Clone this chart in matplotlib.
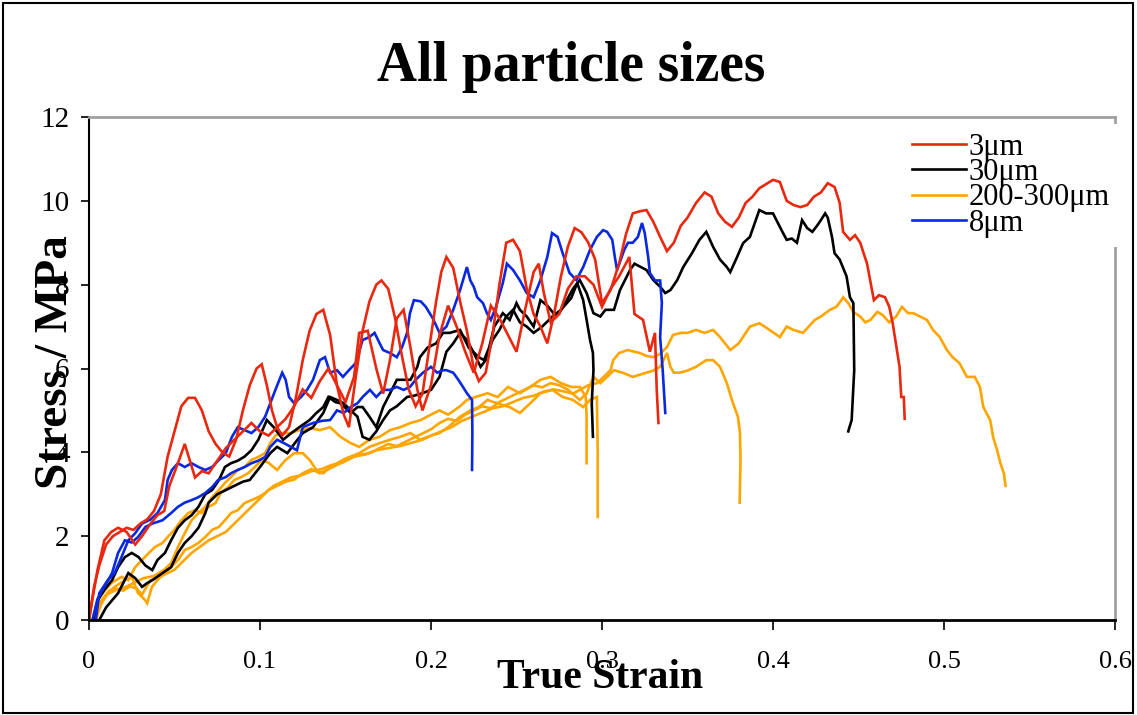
import matplotlib
matplotlib.use("Agg")
import matplotlib.pyplot as plt
from matplotlib.patches import Rectangle

plt.rcParams['font.family'] = ['Liberation Serif', 'DejaVu Serif']

# Datos: (deformación verdadera, tensión MPa)
s3um_long = [(0, 0), (0.003, 0.8), (0.006, 1.3), (0.01, 1.8), (0.014, 2.0), (0.018, 2.1), (0.022, 2.2),
             (0.026, 2.15), (0.03, 2.3), (0.034, 2.4), (0.038, 2.6), (0.042, 3.0), (0.046, 3.9), (0.05, 4.5),
             (0.054, 5.1), (0.058, 5.3), (0.062, 5.3), (0.066, 5.0), (0.07, 4.5), (0.074, 4.2), (0.078, 4.0),
             (0.082, 3.9), (0.086, 4.3), (0.09, 5.0), (0.094, 5.6), (0.098, 6.0), (0.101, 6.1), (0.104, 5.6),
             (0.107, 5.0), (0.11, 4.6), (0.113, 4.4), (0.117, 4.6), (0.121, 5.3), (0.125, 6.2), (0.129, 6.9),
             (0.133, 7.3), (0.137, 7.4), (0.141, 6.8), (0.145, 5.6), (0.149, 4.9), (0.152, 4.6), (0.156, 5.8),
             (0.16, 6.9), (0.164, 7.6), (0.168, 8.0), (0.171, 8.1), (0.175, 7.9), (0.179, 7.2), (0.183, 6.3),
             (0.187, 5.5), (0.191, 5.1), (0.195, 5.4), (0.199, 6.5), (0.203, 7.6), (0.206, 8.3), (0.209, 8.66),
             (0.213, 8.4), (0.217, 7.6), (0.221, 6.9), (0.225, 6.0), (0.228, 5.7), (0.232, 5.9), (0.236, 6.8),
             (0.24, 8.0), (0.244, 9.0), (0.248, 9.07), (0.252, 8.8), (0.256, 7.9), (0.26, 7.3), (0.264, 7.0),
             (0.268, 6.6), (0.272, 7.3), (0.276, 8.2), (0.28, 8.9), (0.284, 9.35), (0.288, 9.25), (0.292, 9.0),
             (0.296, 8.6), (0.3, 7.56), (0.305, 7.87), (0.31, 8.5), (0.314, 9.2), (0.318, 9.7), (0.322, 9.75),
             (0.326, 9.78), (0.33, 9.5), (0.334, 9.14), (0.338, 8.8), (0.342, 9.0), (0.346, 9.4), (0.35, 9.6),
             (0.355, 9.95), (0.36, 10.2), (0.364, 10.1), (0.368, 9.7), (0.372, 9.5), (0.376, 9.38), (0.38, 9.6),
             (0.384, 9.95), (0.388, 10.1), (0.392, 10.3), (0.396, 10.4), (0.4, 10.5), (0.404, 10.45),
             (0.408, 10.0), (0.412, 9.9), (0.416, 9.85), (0.42, 9.9), (0.424, 10.1), (0.428, 10.2),
             (0.432, 10.42), (0.436, 10.33), (0.439, 9.95), (0.441, 9.26), (0.445, 9.07), (0.448, 9.18),
             (0.451, 9.0), (0.455, 8.5), (0.459, 7.63), (0.462, 7.75), (0.4655, 7.7), (0.468, 7.47),
             (0.47, 7.08), (0.4725, 6.44), (0.474, 6.04), (0.475, 5.32), (0.4765, 5.32), (0.477, 4.8)]

s3um_short = [(0, 0), (0.002, 0.5), (0.005, 1.2), (0.009, 1.9), (0.013, 2.1), (0.017, 2.2), (0.022, 2.1),
              (0.027, 1.8), (0.031, 2.0), (0.036, 2.3), (0.04, 2.5), (0.044, 2.6), (0.047, 3.2), (0.052, 3.74),
              (0.056, 4.2), (0.059, 3.8), (0.062, 3.4), (0.066, 3.55), (0.07, 3.5), (0.075, 3.8), (0.08, 4.1),
              (0.085, 4.3), (0.09, 4.5), (0.095, 4.7), (0.1, 4.5), (0.105, 4.4), (0.11, 4.6), (0.115, 4.8),
              (0.12, 5.1), (0.125, 5.5), (0.13, 5.3), (0.135, 5.7), (0.14, 6.0), (0.145, 5.6), (0.15, 5.2),
              (0.155, 5.8), (0.158, 6.85), (0.163, 6.9), (0.168, 6.0), (0.172, 5.4), (0.176, 6.2), (0.18, 7.2),
              (0.184, 7.4), (0.188, 6.5), (0.192, 5.5), (0.195, 5.0), (0.2, 5.6), (0.205, 6.8), (0.21, 7.5),
              (0.215, 7.0), (0.22, 6.4), (0.225, 5.9), (0.23, 6.6), (0.235, 7.5), (0.24, 7.2), (0.245, 6.8),
              (0.25, 6.4), (0.255, 7.4), (0.26, 8.3), (0.263, 8.5), (0.266, 7.8), (0.27, 7.1), (0.275, 7.3),
              (0.28, 7.9), (0.285, 8.2), (0.29, 8.2), (0.295, 8.0), (0.3, 7.47), (0.305, 7.9), (0.31, 8.2),
              (0.316, 8.66), (0.319, 7.3), (0.324, 7.16), (0.328, 6.4), (0.331, 6.85), (0.332, 5.5),
              (0.333, 4.7)]

s30um_long = [(0.003, 0), (0.0053, 0.48), (0.009, 0.72), (0.0135, 0.95), (0.017, 1.26), (0.021, 1.5),
              (0.025, 1.6), (0.029, 1.5), (0.033, 1.3), (0.037, 1.19), (0.04, 1.43), (0.0444, 1.6),
              (0.048, 1.9), (0.052, 2.2), (0.056, 2.38), (0.06, 2.5), (0.064, 2.7), (0.068, 3.0), (0.072, 3.1),
              (0.076, 3.34), (0.0795, 3.65), (0.083, 3.74), (0.087, 3.8), (0.091, 3.9), (0.095, 4.05),
              (0.099, 4.3), (0.104, 4.77), (0.108, 4.6), (0.1135, 4.3), (0.118, 4.45), (0.123, 4.6),
              (0.129, 4.77), (0.133, 4.94), (0.137, 5.08), (0.14, 5.32), (0.144, 5.2), (0.147, 5.17),
              (0.153, 4.94), (0.157, 5.08), (0.16, 5.08), (0.164, 4.85), (0.168, 4.6), (0.172, 5.08),
              (0.176, 5.4), (0.18, 5.73), (0.184, 5.73), (0.188, 5.73), (0.192, 6.04), (0.1935, 6.27),
              (0.198, 6.5), (0.203, 6.6), (0.207, 6.85), (0.211, 6.85), (0.217, 6.92), (0.222, 6.5),
              (0.228, 6.27), (0.231, 6.2), (0.234, 6.5), (0.237, 7.0), (0.242, 7.32), (0.246, 7.16),
              (0.25, 7.56), (0.252, 7.4), (0.256, 7.24), (0.26, 7.0), (0.264, 7.63), (0.268, 7.5),
              (0.272, 7.3), (0.275, 7.32), (0.279, 7.6), (0.283, 7.9), (0.287, 8.11), (0.291, 7.8),
              (0.295, 7.32), (0.299, 7.24), (0.302, 7.4), (0.307, 7.4), (0.3105, 7.87), (0.3164, 8.35),
              (0.319, 8.5), (0.326, 8.35), (0.33, 8.11), (0.334, 7.95), (0.337, 7.8), (0.34, 7.87),
              (0.344, 8.11), (0.3475, 8.42), (0.3526, 8.75), (0.357, 9.07), (0.361, 9.26), (0.365, 8.9),
              (0.369, 8.6), (0.373, 8.42), (0.375, 8.3), (0.379, 8.66), (0.3825, 8.99), (0.3865, 9.14),
              (0.392, 9.78), (0.396, 9.7), (0.4, 9.7), (0.405, 9.3), (0.408, 9.07), (0.411, 9.1), (0.414, 9.0),
              (0.417, 9.54), (0.42, 9.35), (0.423, 9.26), (0.426, 9.42), (0.428, 9.54), (0.4305, 9.7),
              (0.432, 9.6), (0.4345, 9.14), (0.436, 8.75), (0.439, 8.6), (0.441, 8.4), (0.443, 8.2),
              (0.445, 7.7), (0.447, 7.56), (0.4475, 5.96), (0.446, 4.77), (0.444, 4.5)]

s30um_short = [(0.006, 0), (0.01, 0.3), (0.017, 0.64), (0.023, 1.12), (0.027, 1.0), (0.031, 0.79),
               (0.034, 0.88), (0.037, 0.95), (0.043, 1.12), (0.048, 1.26), (0.052, 1.6), (0.056, 1.84),
               (0.06, 2.0), (0.064, 2.2), (0.068, 2.55), (0.07, 2.8), (0.075, 3.0), (0.08, 3.1), (0.085, 3.2),
               (0.09, 3.3), (0.094, 3.34), (0.1, 3.65), (0.106, 3.98), (0.11, 4.13), (0.116, 3.98), (0.12, 4.2),
               (0.125, 4.46), (0.131, 4.6), (0.137, 4.94), (0.141, 5.32), (0.145, 5.25), (0.149, 5.17),
               (0.153, 5.0), (0.157, 4.85), (0.16, 4.37), (0.164, 4.3), (0.168, 4.5), (0.172, 4.77),
               (0.176, 5.0), (0.18, 5.1), (0.186, 5.32), (0.19, 5.35), (0.195, 5.41), (0.2, 5.49), (0.205, 5.8),
               (0.209, 6.4), (0.213, 6.6), (0.217, 6.85), (0.221, 6.68), (0.225, 6.37), (0.229, 6.04),
               (0.232, 6.2), (0.236, 6.68), (0.24, 6.92), (0.244, 7.24), (0.248, 7.4), (0.252, 7.1),
               (0.256, 7.0), (0.26, 6.85), (0.265, 7.0), (0.271, 7.24), (0.276, 7.4), (0.282, 7.68),
               (0.2855, 8.04), (0.289, 7.63), (0.291, 7.16), (0.293, 6.68), (0.2947, 6.37), (0.295, 5.96),
               (0.294, 5.17), (0.2947, 4.37)]

s200_top = [(0.003, 0), (0.006, 0.4), (0.01, 0.6), (0.016, 0.72), (0.022, 0.8), (0.027, 0.9), (0.032, 1.0),
            (0.038, 1.05), (0.044, 1.2), (0.048, 1.36), (0.052, 1.74), (0.056, 2.07), (0.06, 2.38),
            (0.064, 2.55), (0.068, 2.7), (0.072, 2.93), (0.076, 3.1), (0.0795, 3.27), (0.083, 3.41),
            (0.087, 3.58), (0.091, 3.65), (0.095, 3.82), (0.099, 3.89), (0.103, 3.98), (0.106, 4.22),
            (0.109, 4.4), (0.112, 4.46), (0.118, 4.46), (0.123, 4.53), (0.129, 4.58), (0.135, 4.53),
            (0.141, 4.6), (0.147, 4.37), (0.153, 4.22), (0.158, 4.13), (0.164, 4.3), (0.17, 4.37),
            (0.176, 4.53), (0.182, 4.6), (0.188, 4.7), (0.194, 4.77), (0.2, 4.9), (0.205, 5.0), (0.21, 4.9),
            (0.217, 5.1), (0.221, 5.25), (0.226, 5.32), (0.233, 5.41), (0.239, 5.32), (0.245, 5.56),
            (0.252, 5.41), (0.258, 5.56), (0.264, 5.73), (0.27, 5.8), (0.276, 5.65), (0.282, 5.56),
            (0.287, 5.56), (0.2905, 5.32), (0.291, 4.85), (0.291, 3.74)]

s200_mid = [(0.002, 0), (0.005, 0.5), (0.008, 0.64), (0.013, 0.88), (0.019, 1.03), (0.023, 0.95),
            (0.027, 1.26), (0.031, 1.43), (0.035, 1.6), (0.0386, 1.74), (0.043, 1.84), (0.046, 1.98),
            (0.05, 2.15), (0.054, 2.38), (0.058, 2.55), (0.062, 2.62), (0.066, 2.55), (0.07, 2.7),
            (0.074, 2.79), (0.077, 3.03), (0.0813, 3.17), (0.085, 3.34), (0.089, 3.41), (0.093, 3.5),
            (0.097, 3.65), (0.101, 3.82), (0.105, 3.75), (0.11, 3.58), (0.115, 3.82), (0.12, 3.98),
            (0.125, 3.98), (0.129, 3.82), (0.133, 3.58), (0.137, 3.5), (0.141, 3.65), (0.145, 3.74),
            (0.15, 3.85), (0.158, 3.98), (0.164, 4.13), (0.17, 4.22), (0.176, 4.3), (0.182, 4.37),
            (0.188, 4.46), (0.1936, 4.3), (0.2, 4.4), (0.205, 4.46), (0.21, 4.6), (0.217, 4.85), (0.223, 5.0),
            (0.228, 5.08), (0.233, 5.25), (0.24, 5.15), (0.246, 5.08), (0.252, 4.94), (0.258, 5.17),
            (0.264, 5.41), (0.271, 5.49), (0.277, 5.32), (0.283, 5.25), (0.289, 5.08), (0.293, 5.25),
            (0.297, 5.32), (0.2975, 4.0), (0.2975, 2.46)]

s200_long = [(0.003, 0), (0.006, 0.3), (0.011, 0.64), (0.015, 0.79), (0.021, 0.95), (0.025, 1.03),
             (0.0287, 0.64), (0.0327, 0.48), (0.034, 0.4), (0.0368, 0.79), (0.04, 0.95), (0.044, 1.12),
             (0.048, 1.26), (0.052, 1.43), (0.056, 1.67), (0.06, 1.74), (0.064, 1.84), (0.068, 1.98),
             (0.072, 2.15), (0.076, 2.22), (0.0795, 2.38), (0.083, 2.55), (0.087, 2.62), (0.091, 2.79),
             (0.095, 2.86), (0.099, 2.93), (0.103, 3.03), (0.108, 3.2), (0.113, 3.3), (0.118, 3.4),
             (0.124, 3.45), (0.13, 3.55), (0.136, 3.6), (0.142, 3.7), (0.148, 3.75), (0.155, 3.9),
             (0.162, 3.95), (0.168, 4.05), (0.175, 4.1), (0.182, 4.15), (0.188, 4.22), (0.195, 4.3),
             (0.2, 4.4), (0.206, 4.5), (0.212, 4.6), (0.218, 4.75), (0.224, 4.85), (0.23, 4.95), (0.236, 5.05),
             (0.242, 5.1), (0.248, 5.2), (0.254, 5.3), (0.26, 5.35), (0.266, 5.45), (0.272, 5.5),
             (0.278, 5.45), (0.283, 5.4), (0.287, 5.49), (0.292, 5.6), (0.297, 5.65), (0.301, 5.8),
             (0.305, 5.96), (0.3066, 6.2), (0.31, 6.37), (0.315, 6.44), (0.319, 6.4), (0.322, 6.37),
             (0.326, 6.3), (0.33, 6.27), (0.334, 6.35), (0.338, 6.51), (0.3415, 6.8), (0.346, 6.85),
             (0.35, 6.85), (0.355, 6.92), (0.36, 6.85), (0.365, 6.92), (0.369, 6.75), (0.375, 6.44),
             (0.38, 6.6), (0.3865, 7.0), (0.392, 7.08), (0.398, 6.92), (0.404, 6.75), (0.408, 7.0),
             (0.412, 6.92), (0.4175, 6.85), (0.4245, 7.16), (0.428, 7.24), (0.4333, 7.4), (0.437, 7.47),
             (0.44, 7.63), (0.441, 7.7), (0.444, 7.56), (0.447, 7.35), (0.451, 7.24), (0.454, 7.1),
             (0.457, 7.16), (0.461, 7.35), (0.464, 7.28), (0.468, 7.1), (0.472, 7.24), (0.4754, 7.47),
             (0.479, 7.32), (0.482, 7.32), (0.486, 7.24), (0.49, 7.16), (0.4936, 6.92), (0.4975, 6.75),
             (0.5017, 6.44), (0.505, 6.27), (0.509, 6.13), (0.5134, 5.8), (0.518, 5.8), (0.521, 5.56),
             (0.523, 5.08), (0.527, 4.77), (0.5287, 4.37), (0.531, 4.06), (0.533, 3.74), (0.535, 3.5),
             (0.536, 3.2)]

s200_381 = [(0.004, 0), (0.008, 0.5), (0.012, 0.7), (0.016, 0.75), (0.02, 0.7), (0.024, 0.8), (0.028, 0.75),
            (0.031, 0.6), (0.033, 0.75), (0.036, 0.95), (0.04, 1.0), (0.045, 1.1), (0.05, 1.2), (0.055, 1.4),
            (0.06, 1.6), (0.065, 1.75), (0.07, 1.9), (0.075, 2.0), (0.08, 2.1), (0.085, 2.3), (0.09, 2.5),
            (0.095, 2.7), (0.1, 2.9), (0.105, 3.1), (0.11, 3.2), (0.115, 3.3), (0.12, 3.35), (0.125, 3.5),
            (0.13, 3.6), (0.135, 3.5), (0.14, 3.6), (0.145, 3.7), (0.15, 3.8), (0.155, 3.9), (0.16, 3.95),
            (0.165, 4.0), (0.17, 4.1), (0.175, 4.2), (0.18, 4.15), (0.185, 4.25), (0.19, 4.35), (0.195, 4.45),
            (0.2, 4.55), (0.205, 4.7), (0.21, 4.8), (0.215, 4.75), (0.22, 4.9), (0.225, 5.0), (0.23, 5.1),
            (0.235, 5.05), (0.24, 5.2), (0.245, 5.3), (0.25, 5.4), (0.255, 5.5), (0.26, 5.6), (0.265, 5.55),
            (0.27, 5.65), (0.275, 5.6), (0.28, 5.5), (0.287, 5.25), (0.291, 5.4), (0.295, 5.8), (0.299, 5.65),
            (0.303, 5.8), (0.307, 5.96), (0.312, 5.9), (0.318, 5.8), (0.322, 5.85), (0.326, 5.9),
            (0.33, 5.95), (0.334, 6.04), (0.338, 6.37), (0.34, 6.04), (0.342, 5.9), (0.3456, 5.9),
            (0.35, 5.95), (0.355, 6.04), (0.361, 6.2), (0.365, 6.2), (0.369, 6.04), (0.373, 5.65),
            (0.3766, 5.17), (0.3795, 4.85), (0.3807, 4.46), (0.381, 3.82), (0.3805, 2.8)]

s8um_long = [(0.004, 0), (0.006, 0.64), (0.011, 0.95), (0.015, 1.12), (0.019, 1.5), (0.023, 1.9),
             (0.027, 2.07), (0.031, 2.3), (0.036, 2.4), (0.04, 2.55), (0.0444, 2.86), (0.046, 3.34),
             (0.0485, 3.58), (0.052, 3.74), (0.056, 3.65), (0.06, 3.74), (0.064, 3.65), (0.068, 3.58),
             (0.072, 3.65), (0.0755, 3.8), (0.08, 3.98), (0.0836, 4.37), (0.087, 4.6), (0.091, 4.53),
             (0.095, 4.46), (0.099, 4.6), (0.103, 4.85), (0.106, 5.17), (0.109, 5.49), (0.113, 5.9),
             (0.115, 5.73), (0.117, 5.32), (0.12, 5.17), (0.124, 5.32), (0.1275, 5.49), (0.131, 5.73),
             (0.135, 6.2), (0.138, 6.27), (0.141, 5.9), (0.145, 5.96), (0.1485, 5.8), (0.152, 5.96),
             (0.156, 6.13), (0.16, 6.68), (0.164, 6.75), (0.167, 6.85), (0.17, 6.6), (0.172, 6.44),
             (0.176, 6.37), (0.18, 6.27), (0.183, 6.5), (0.186, 6.85), (0.1877, 7.32), (0.19, 7.63),
             (0.194, 7.6), (0.197, 7.47), (0.201, 7.2), (0.205, 6.85), (0.209, 7.0), (0.213, 7.4),
             (0.217, 7.87), (0.221, 8.42), (0.223, 8.1), (0.225, 7.95), (0.227, 7.7), (0.2304, 7.56),
             (0.2327, 7.32), (0.235, 7.16), (0.238, 7.47), (0.242, 8.04), (0.2444, 8.5), (0.248, 8.35),
             (0.252, 8.1), (0.256, 7.8), (0.26, 7.7), (0.264, 8.11), (0.268, 8.66), (0.2708, 9.23),
             (0.274, 9.14), (0.277, 8.75), (0.281, 8.28), (0.285, 8.11), (0.289, 8.42), (0.293, 8.83),
             (0.297, 9.14), (0.3006, 9.3), (0.303, 9.26), (0.306, 9.07), (0.3075, 8.66), (0.3088, 8.35),
             (0.311, 8.6), (0.313, 8.83), (0.3152, 9.0), (0.318, 9.0), (0.321, 9.14), (0.3234, 9.47),
             (0.325, 9.23), (0.327, 8.66), (0.328, 8.28), (0.331, 8.1), (0.334, 8.1), (0.335, 7.56),
             (0.334, 6.75), (0.3355, 5.96), (0.337, 4.94)]

s8um_short = [(0.002, 0), (0.005, 0.5), (0.009, 0.79), (0.0135, 1.12), (0.017, 1.6), (0.021, 1.9),
              (0.025, 1.85), (0.0287, 1.98), (0.033, 2.22), (0.037, 2.3), (0.043, 2.38), (0.048, 2.55),
              (0.052, 2.7), (0.056, 2.8), (0.06, 2.86), (0.064, 2.93), (0.068, 3.03), (0.072, 3.17),
              (0.0755, 3.34), (0.08, 3.41), (0.083, 3.5), (0.087, 3.58), (0.091, 3.65), (0.095, 3.74),
              (0.099, 3.8), (0.103, 3.89), (0.106, 4.13), (0.11, 4.3), (0.114, 4.22), (0.1216, 4.05),
              (0.125, 4.6), (0.131, 4.7), (0.136, 4.75), (0.141, 4.77), (0.145, 5.0), (0.149, 4.94),
              (0.153, 5.08), (0.157, 5.17), (0.16, 5.32), (0.1643, 5.49), (0.168, 5.32), (0.172, 5.49),
              (0.176, 5.49), (0.18, 5.56), (0.184, 5.49), (0.1877, 5.56), (0.191, 5.73), (0.1953, 5.9),
              (0.2, 6.04), (0.2036, 5.9), (0.207, 5.96), (0.209, 5.96), (0.213, 5.9), (0.216, 5.73),
              (0.2187, 5.56), (0.221, 5.41), (0.224, 5.25), (0.2242, 4.46), (0.224, 3.58)]

series_labels = ['3\u03bcm', '30\u03bcm', '200-300\u03bcm', '8\u03bcm']
series_colors = ['#e8280f', '#000000', '#ffa500', '#0a28e0']
series_curves = [[s3um_long, s3um_short], [s30um_long, s30um_short],
                 [s200_long, s200_381, s200_top, s200_mid], [s8um_long, s8um_short]]

fig = plt.figure(figsize=(11.37, 7.15), dpi=100)
ax = fig.add_axes([89 / 1137, 1 - 620 / 715, (1115 - 89) / 1137, (620 - 117) / 715])

# orden de dibujo: naranja, negro, azul, rojo
handles = [None] * 4
for i in [2, 1, 3, 0]:
    for j, curve in enumerate(series_curves[i]):
        xs = [p[0] for p in curve]
        ys = [p[1] for p in curve]
        line, = ax.plot(xs, ys, color=series_colors[i], lw=1.9, solid_joinstyle='miter')
        if j == 0:
            handles[i] = line

ax.set_xlim(0, 0.6)
ax.set_ylim(0, 12)
ax.set_xticks([0, 0.1, 0.2, 0.3, 0.4, 0.5, 0.6])
ax.set_xticklabels(['0', '0.1', '0.2', '0.3', '0.4', '0.5', '0.6'])
ax.set_yticks(range(0, 13, 2))
ax.tick_params(axis='x', direction='out', length=7, width=1.2, pad=15, labelsize=19)
ax.tick_params(axis='y', direction='out', length=6, width=1.2, pad=8, labelsize=21)

for side in ['top', 'right']:
    ax.spines[side].set_color('#a0a0a0')
    ax.spines[side].set_linewidth(2)
ax.spines['left'].set_linewidth(1.5)
ax.spines['bottom'].set_linewidth(2)

ax.set_xlabel('True Strain', fontsize=30, fontweight='bold', va='center')
ax.xaxis.set_label_coords((600 - 89) / 1026, (620 - 678) / 503)
ax.set_ylabel('Stress / MPa', fontsize=34, fontweight='bold', va='center')
ax.yaxis.set_label_coords((56 - 89) / 1026, (620 - 362) / 503)

fig.text(571 / 1137, 1 - 67 / 715, 'All particle sizes', fontsize=40, fontweight='bold',
         ha='center', va='center')

leg = ax.legend(handles, series_labels, loc='upper right', bbox_to_anchor=(1.004, 0.987),
                fontsize=22, frameon=True, fancybox=False, framealpha=1, edgecolor='white',
                handlelength=1.75, handletextpad=0.1, labelspacing=-0.12, borderpad=0.3,
                borderaxespad=0)
leg.get_frame().set_linewidth(0)

fig.patches.append(Rectangle((3 / 1137, 2 / 715), 1130 / 1137, 710 / 715, transform=fig.transFigure,
                             fill=False, edgecolor='black', lw=1.5))

fig.savefig('out.png', dpi=100)
